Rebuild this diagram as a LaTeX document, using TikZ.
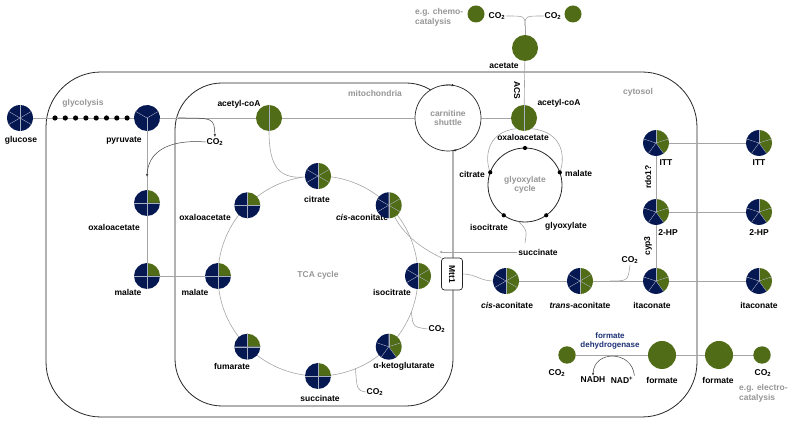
\documentclass[tikz,border=0pt]{standalone}
\usepackage{fontspec}
\setmainfont{Liberation Sans}
\usepackage{graphicx}
\usetikzlibrary{arrows.meta}
\usetikzlibrary{calc}
\tikzset{>={Latex[length=3pt,width=2.4pt]}}
\definecolor{navy}{RGB}{6,24,82}
\definecolor{leaf}{RGB}{80,108,22}
\definecolor{paleink}{RGB}{150,150,150}
\definecolor{wire}{RGB}{165,165,165}
\definecolor{enzblue}{RGB}{28,48,118}

\tikzset{
  spot/.style={circle, inner sep=0pt, outer sep=0pt, minimum size=26pt},
  blob/.style={spot, minimum size=17pt},
  metab/.style={font=\fontsize{8.5}{9.5}\selectfont\bfseries, inner sep=1pt},
  region/.style={font=\fontsize{8.5}{9.5}\selectfont\bfseries, text=paleink, align=center, inner sep=1pt},
  link/.style={wire, line width=0.6pt},
  thinarrow/.style={black!75, line width=0.5pt, ->},
  membrane/.style={black!85, line width=0.8pt},
  shuttle/.style={circle, draw=black!85, fill=white, line width=0.7pt, minimum size=66pt, inner sep=0pt, outer sep=0pt, region},
  loopring/.style={circle, draw=black!85, line width=0.8pt, minimum size=74pt, inner sep=0pt, outer sep=0pt, region},
  carrier/.style={draw=black!85, fill=white, rounded corners=3pt, line width=0.7pt, minimum width=21pt, minimum height=32pt, inner sep=0pt, metab},
}

% pie: node, slices, green slices, radius, start angle
\newcommand{\pie}[5]{%
  \foreach \k in {1,...,#2}{%
    \pgfmathsetmacro{\anga}{#5-360/#2*(\k-1)}%
    \pgfmathsetmacro{\angb}{#5-360/#2*\k}%
    \ifnum\k>#3\relax\def\tint{navy}\else\def\tint{leaf}\fi
    \fill[\tint] (#1.center) -- ++(\anga:#4) arc[start angle=\anga, end angle=\angb, radius=#4] -- cycle;
  }%
  \foreach \k in {1,...,#2}{%
    \pgfmathsetmacro{\anga}{#5-360/#2*(\k-1)}%
    \draw[white!65!navy, line width=0.35pt] (#1.center) -- ++(\anga:#4);
  }%
}

\begin{document}
\begin{tikzpicture}[x=1pt, y=1pt]
  \useasboundingbox (0,0) rectangle (792,422);

  % compartments
  \draw[membrane, rounded corners=55pt] (46,5) rectangle (697,350);
  \draw[membrane, rounded corners=47pt] (175,16) rectangle (453,339);
  \node[region] (glycL) at (83,319) {glycolysis};
  \node[region] (mitoL) at (375,329) {mitochondria};
  \node[region] (cytoL) at (638,330) {cytosol};

  % metabolites
  \coordinate (tca) at (318,146);
  \node[spot] (glc) at (20,304) {};
  \node[spot] (pyr) at (147,304) {};
  \node[spot] (acm) at (269,304) {};
  \node[spot] (oaaC) at (147,219) {};
  \node[spot] (malC) at (147,146) {};
  \node[spot] (cit) at ($(tca)+(90:100)$) {};
  \node[spot] (cisM) at ($(tca)+(45:100)$) {};
  \node[spot] (iso) at ($(tca)+(0:100)$) {};
  \node[spot] (akg) at ($(tca)+(-45:100)$) {};
  \node[spot] (sucM) at ($(tca)+(-90:100)$) {};
  \node[spot] (fum) at ($(tca)+(-135:100)$) {};
  \node[spot] (malM) at ($(tca)+(180:100)$) {};
  \node[spot] (oaaM) at ($(tca)+(135:100)$) {};
  \node[shuttle] (carn) at (448,304) {carnitine\\shuttle};
  \node[spot] (accyt) at (524,304) {};
  \node[spot] (acet) at (525,374) {};
  \node[blob] (co2a) at (476,408) {};
  \node[blob] (co2b) at (573,408) {};
  \node[loopring] (glyox) at (525,237) {glyoxylate\\cycle};
  \node[spot] (cisC) at (506,141) {};
  \node[spot] (transC) at (580,141) {};
  \node[spot] (ita) at (656,141) {};
  \node[spot] (hp) at (656,210) {};
  \node[spot] (itt) at (656,279) {};
  \node[spot] (itaR) at (759,141) {};
  \node[spot] (hpR) at (759,210) {};
  \node[spot] (ittR) at (759,279) {};
  \node[blob] (co2F) at (567,67) {};
  \node[spot, minimum size=28pt] (fmC) at (662,67) {};
  \node[spot, minimum size=28pt] (fmO) at (719,67) {};
  \node[blob] (co2O) at (762,67) {};
  \node[carrier] (mtt) at (452,148) {\rotatebox{-90}{Mtt1}};

  % labels
  \node[metab] (glcL) at (21,282) {glucose};
  \node[metab] (pyrL) at (124,281) {pyruvate};
  \node[metab] (acmL) at (239,318) {acetyl-coA};
  \node[metab] (co2pL) at (215,280) {CO\textsubscript{2}};
  \node[metab] (oaaCL) at (114,195) {oxaloacetate};
  \node[metab] (malCL) at (128,130) {malate};
  \node[metab] (malML) at (195,130) {malate};
  \node[metab] (oaaML) at (205,205) {oxaloacetate};
  \node[metab] (citL) at (317,223) {citrate};
  \node[metab] (cisML) at (362,205) {\textit{cis}-aconitate};
  \node[metab] (isoL) at (392,130) {isocitrate};
  \node[metab] (akgL) at (404,56) {α-ketoglutarate};
  \node[metab] (sucML) at (320,24) {succinate};
  \node[metab] (fumL) at (232,56) {fumarate};
  \node[region] (tcaL) at (318,147) {TCA cycle};
  \node[metab] (co2t1) at (437,93) {CO\textsubscript{2}};
  \node[metab] (co2t2) at (375,30) {CO\textsubscript{2}};
  \node[metab] (acetL) at (504,356) {acetate};
  \node[metab] (accL) at (559,319) {acetyl-coA};
  \node[metab, rotate=-90] (acsL) at (517,332) {ACS};
  \node[region, anchor=west, align=left] (chemoL) at (414,404.5) {e.g. chemo-\\catalysis};
  \node[metab] (co2aL) at (497,406) {CO\textsubscript{2}};
  \node[metab] (co2bL) at (553,406) {CO\textsubscript{2}};
  \node[metab] (oaaGL) at (523,285) {oxaloacetate};
  \node[metab, anchor=east] (citGL) at (486,248) {citrate};
  \node[metab, anchor=west] (malGL) at (564,249) {malate};
  \node[metab] (isoGL) at (489,195) {isocitrate};
  \node[metab] (glyGL) at (566,196) {glyoxylate};
  \node[metab] (sucCL) at (538,170) {succinate};
  \node[metab] (cisCL) at (507,117) {\textit{cis}-aconitate};
  \node[metab] (transL) at (580,117) {\textit{trans}-aconitate};
  \node[metab] (itaL) at (652,117) {itaconate};
  \node[metab] (hpL) at (668,189) {2-HP};
  \node[metab] (ittL) at (666,259) {ITT};
  \node[metab] (itaRL) at (759,117) {itaconate};
  \node[metab] (hpRL) at (759,189) {2-HP};
  \node[metab] (ittRL) at (759,259) {ITT};
  \node[metab, rotate=90] (rdoL) at (648,245) {rdo1?};
  \node[metab, rotate=90] (cypL) at (648,176) {cyp3};
  \node[metab] (co2iL) at (630,162) {CO\textsubscript{2}};
  \node[metab, text=enzblue, align=center, font=\fontsize{8}{9.5}\selectfont\bfseries] (fdhL) at (610,81) {formate\\dehydrogenase};
  \node[metab] (co2FL) at (557,49) {CO\textsubscript{2}};
  \node[metab] (nadhL) at (593,42) {NADH};
  \node[metab] (nadpL) at (622,42) {NAD\textsuperscript{+}};
  \node[metab] (fmCL) at (662,42) {formate};
  \node[metab] (fmOL) at (718,42) {formate};
  \node[metab] (co2OL) at (763,49) {CO\textsubscript{2}};
  \node[region, anchor=west, align=left] (elecL) at (738,28.5) {e.g. electro-\\catalysis};

  % connectors
  \coordinate (pdh) at (178,304);
  \coordinate (pcin) at (147,245);
  \coordinate (cjoin) at ($(tca)+(99:100)$);
  \coordinate (b1) at ($(tca)+(-21:100)$);
  \coordinate (b2) at ($(tca)+(-68:100)$);
  \coordinate (b4) at (610,141);
  \coordinate (fork) at (525,396);
  \coordinate (sucin) at (525,179);
  \coordinate (sucend) at (439,170);
  \draw[link] (tca) circle[radius=100];
  \draw[link] (glc) -- (pyr);
  \draw[link] (pyr) -- (acm) -- (carn);
  \draw[link] (pyr) -- (oaaC) -- (malC) -- (malM);
  \draw[link] (acm) .. controls (269,254) and (280,244) .. (cjoin);
  \draw[link] (b1) .. controls (413,95) .. (co2t1.west);
  \draw[link] (b2) .. controls (357,32) .. (co2t2.west);
  \draw[link] (cisM) .. controls (405,185) and (425,172) .. (mtt.north west);
  \draw[link] (mtt.east) to[out=0, in=180] (cisC.west);
  \draw[link] (cisC) -- (transC) -- (ita) -- (itaR);
  \draw[link] (b4) .. controls (628,141) .. (co2iL.south);
  \draw[link] (ita) -- (hp) -- (itt);
  \draw[link] (hp) -- (hpR);
  \draw[link] (itt) -- (ittR);
  \draw[link] (carn) -- (accyt);
  \draw[link] (acet) -- (accyt);
  \draw[link] (acet) -- (fork);
  \draw[link] (fork) .. controls (525,406) .. (co2aL.east);
  \draw[link] (fork) .. controls (525,406) .. (co2bL.west);
  \draw[link] (accyt.235) .. controls (485,290) and (485,262) .. (glyox.160);
  \draw[link] (accyt.-55) .. controls (565,290) and (565,262) .. (glyox.20);
  \draw[link] (glyox.-100) .. controls (527,192) .. (sucin);
  \draw[link, ->] (sucCL.west) -- (sucend);
  \draw[link] (co2F) -- (fmC) -- (fmO) -- (co2O);
  \draw[thinarrow] (pdh) .. controls (214,304) .. (co2pL.north);
  \draw[thinarrow] (co2pL.west) .. controls (165,283) and (148,268) .. (pcin);
  \draw[thinarrow] (nadpL.north east) .. controls (632,72) and (594,72) .. (nadhL.north);
  \draw[black!85, line width=0.6pt, ->] ($(carn)+(100:33)$) arc[start angle=100, end angle=78, radius=33];
  \draw[black!85, line width=0.6pt, ->] ($(carn)+(-74:33)$) arc[start angle=-74, end angle=-82, radius=33];
  \foreach \a in {90,160,20,-125,-55}
    \fill (glyox.\a) circle[radius=2.1];
  \foreach \i in {0,...,7}
    \fill (55+10.3*\i,304) circle[radius=2.6];

  % pies
  \pie{glc}{6}{0}{13}{90}
  \pie{pyr}{3}{0}{13}{-90}
  \pie{acm}{2}{2}{13}{90}
  \pie{accyt}{2}{2}{13}{90}
  \foreach \m in {oaaC,malC,malM,oaaM,fum,sucM}
    {\pie{\m}{4}{1}{13}{90}}
  \foreach \m in {cit,cisM,iso,cisC,transC}
    {\pie{\m}{6}{3}{13}{90}}
  \foreach \m in {akg,ita,hp,itt,itaR,hpR,ittR}
    {\pie{\m}{5}{2}{13}{90}}
  \fill[leaf] (acet) circle[radius=13];
  \fill[leaf] (co2a) circle[radius=8.5];
  \fill[leaf] (co2b) circle[radius=8.5];
  \fill[leaf] (co2F) circle[radius=8.7];
  \fill[leaf] (fmC) circle[radius=14];
  \fill[leaf] (fmO) circle[radius=14];
  \fill[leaf] (co2O) circle[radius=8.7];
\end{tikzpicture}
\end{document}
